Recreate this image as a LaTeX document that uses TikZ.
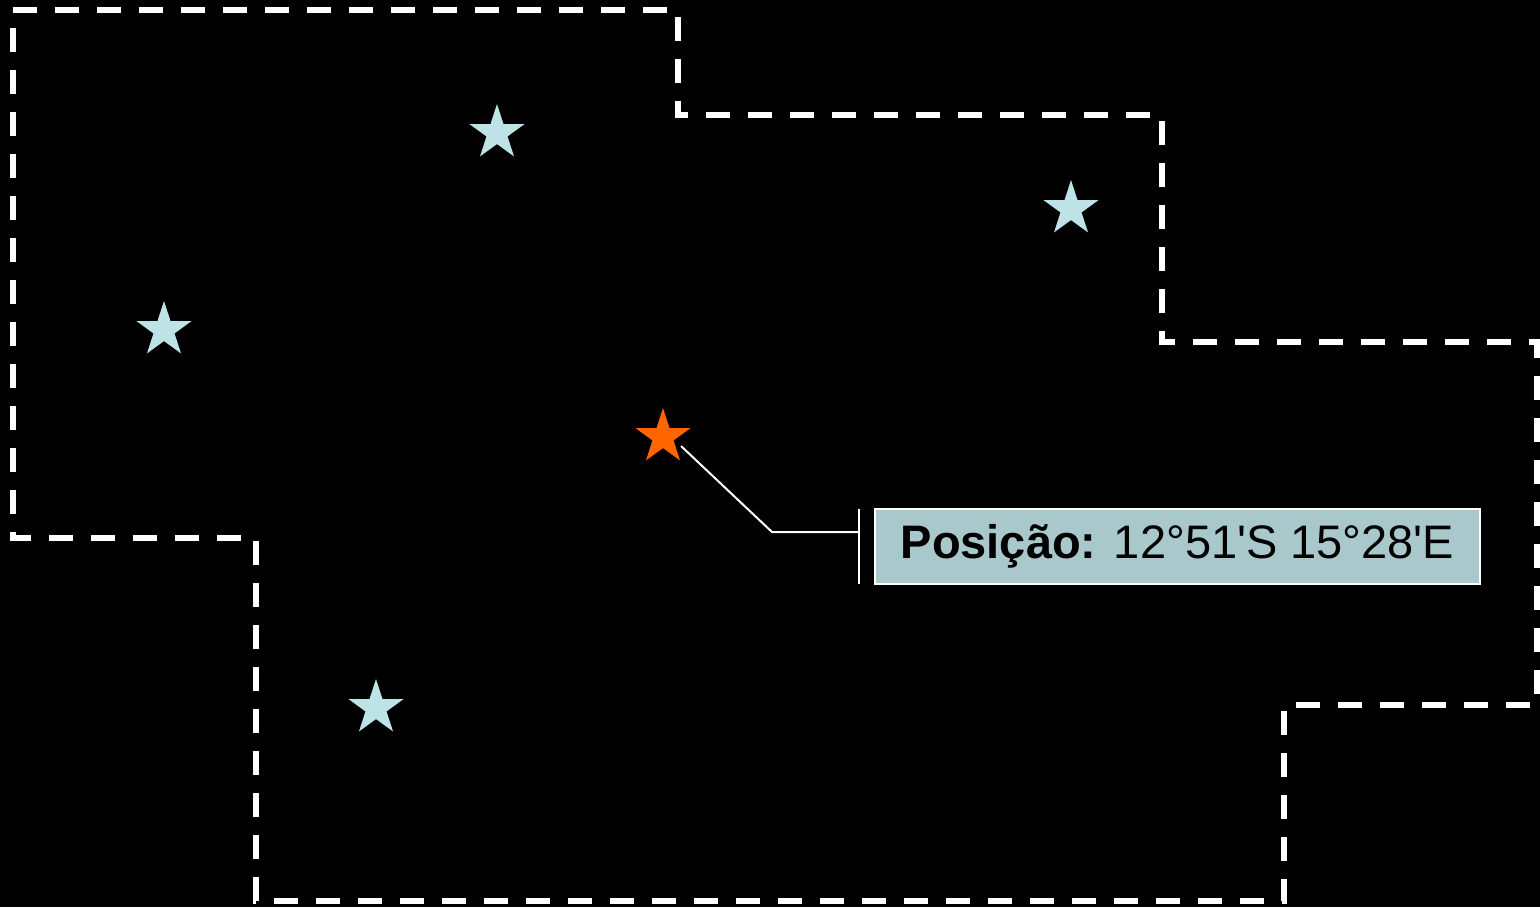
\documentclass[tikz,border=0pt]{standalone}
\usepackage{fontspec}
\setmainfont{Liberation Sans}
\usetikzlibrary{shapes.geometric}
\definecolor{starblue}{HTML}{BDE3E6}
\definecolor{starorange}{HTML}{FF6600}
\definecolor{boxfill}{HTML}{A8C8CB}
\tikzset{
  region/.style={draw=white, line width=2.8pt, dash pattern=on 12pt off 9pt, line join=miter},
  bluestar/.style={star, star points=5, star point ratio=2.618, fill=starblue, inner sep=0pt, minimum size=29pt},
  orangestar/.style={star, star points=5, star point ratio=2.618, fill=starorange, inner sep=0pt, minimum size=29pt},
  leader/.style={draw=white, line width=1pt},
  labelbox/.style={draw=white, line width=1pt, fill=boxfill, minimum width=302.5pt, minimum height=37.5pt, inner sep=0pt, font=\fontsize{23.5}{27}\selectfont, text=black}
}
\begin{document}
\begin{tikzpicture}[x=0.5pt, y=-0.5pt]
\fill[black] (0,0) rectangle (1540,907);
\useasboundingbox (0,0) rectangle (1540,907);
\draw[region] (13,10) -- (678,10) -- (678,115) -- (1162,115) -- (1162,342) -- (1537,342) -- (1537,705) -- (1284,705) -- (1284,901) -- (256,901) -- (256,538) -- (13,538) -- cycle;
\node[bluestar] (s1) at (497,133) {};
\node[bluestar] (s2) at (1071,209) {};
\node[bluestar] (s3) at (164,330) {};
\node[bluestar] (s4) at (376,708) {};
\node[orangestar] (home) at (663,437) {};
\node[labelbox] (pos) at (1177.5,546.5) {\textbf{Posição:} 12°51\textquotesingle S 15°28\textquotesingle E};
\coordinate (bend) at (772,532);
\coordinate (tick) at (859,532);
\coordinate (tickt) at (859,509);
\coordinate (tickb) at (859,584);
\draw[leader] (681,446) -- (bend) -- (tick);
\draw[leader] (tickt) -- (tickb);
\end{tikzpicture}
\end{document}
